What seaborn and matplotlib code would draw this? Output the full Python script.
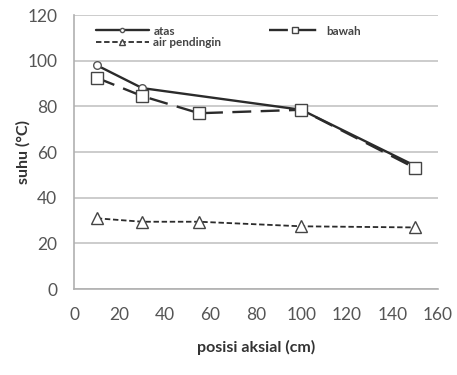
import matplotlib
matplotlib.use("Agg")
import matplotlib.pyplot as plt
import seaborn as sns
import pandas as pd

x_atas = [10, 30, 100, 150]
y_atas = [98, 88, 78.5, 54]
x_bawah = [10, 30, 55, 100, 150]
y_bawah = [92.5, 84.5, 77, 78.5, 53]
x_air = [10, 30, 55, 100, 150]
y_air = [31, 29.5, 29.5, 27.5, 27]
xticks = [0, 20, 40, 60, 80, 100, 120, 140, 160]
yticks = [0, 20, 40, 60, 80, 100, 120]

sns.set_style("white")
plt.rcParams['font.family'] = ['Lato', 'DejaVu Sans']

fig = plt.figure(figsize=(4.57, 3.75), dpi=100)
ax = fig.add_axes([0.162, 0.229, 0.796, 0.731])

df_a = pd.DataFrame({"x": x_atas, "y": y_atas})
df_b = pd.DataFrame({"x": x_bawah, "y": y_bawah})
df_c = pd.DataFrame({"x": x_air, "y": y_air})

sns.lineplot(data=df_a, x="x", y="y", ax=ax, color="#2b2b2b", lw=1.7,
             marker="o", markersize=5.5, markerfacecolor="white",
             markeredgecolor="#555555", markeredgewidth=1, label="atas")
sns.lineplot(data=df_c, x="x", y="y", ax=ax, color="#2b2b2b", lw=1.3,
             dashes=(3, 1.5), marker="^", markersize=9, markerfacecolor="white",
             markeredgecolor="#444444", markeredgewidth=1, label="air pendingin")
sns.lineplot(data=df_b, x="x", y="y", ax=ax, color="#2b2b2b", lw=1.7,
             dashes=(8, 4), marker="s", markersize=8, markerfacecolor="white",
             markeredgecolor="#444444", markeredgewidth=1, label="bawah")

ax.set_xlim(0, 160)
ax.set_ylim(0, 120)
ax.set_xticks(xticks)
ax.set_yticks(yticks)
ax.yaxis.grid(True, color="#c4c4c4", lw=1.2)
ax.set_axisbelow(True)
for s in ["top", "right"]:
    ax.spines[s].set_visible(False)
for s in ["left", "bottom"]:
    ax.spines[s].set_color("#b0b0b0")
    ax.spines[s].set_linewidth(1.2)
ax.tick_params(axis="both", direction="out", length=5, width=1.2,
               color="#b0b0b0", labelsize=12.5, labelcolor="#555555")
ax.tick_params(axis="y", pad=7)
ax.tick_params(axis="x", pad=8)
ax.set_xlabel("posisi aksial (cm)", fontsize=11.5, fontweight="bold", color="#333333", labelpad=12)
ax.set_ylabel("suhu (°C)", fontsize=11.5, fontweight="bold", color="#333333", labelpad=-2)

leg = ax.legend(loc="upper left", ncol=2, frameon=False, fontsize=8.5,
                handlelength=4.5, columnspacing=4, labelspacing=0.05,
                bbox_to_anchor=(0.03, 1.0), handletextpad=0.4, markerscale=0.55)
for t in leg.get_texts():
    t.set_color("#444444")
    t.set_fontweight("bold")

fig.savefig("out.png", dpi=100)
